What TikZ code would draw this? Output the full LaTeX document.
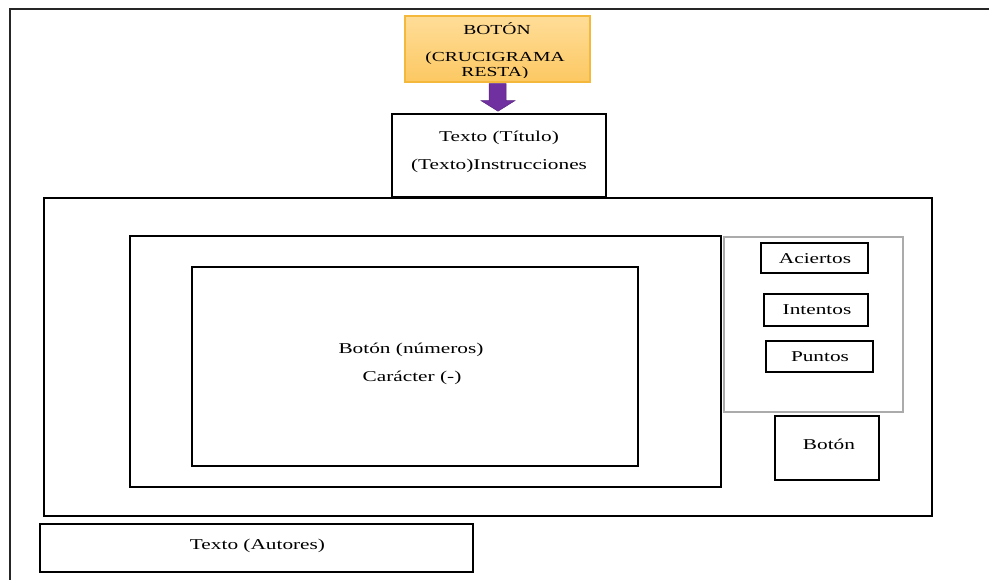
\documentclass[tikz,border=0pt]{standalone}
\usepackage{fontspec}
\setmainfont{Liberation Serif}[FakeStretch=1.42]
\usetikzlibrary{calc}
\definecolor{btnfillA}{HTML}{FFDD98}
\definecolor{btnfillB}{HTML}{FCC862}
\definecolor{btnedge}{HTML}{F4B93C}
\definecolor{arrowfill}{HTML}{7030A0}
\definecolor{arrowedge}{HTML}{5A2480}
\definecolor{paneledge}{HTML}{ABABAB}
\begin{document}
\begin{tikzpicture}[x=1pt,y=-1pt,
  box/.style={draw=black,line width=1.6pt,rectangle,inner sep=0pt},
  panel/.style={draw=paneledge,line width=1.4pt,rectangle,inner sep=0pt},
  lbl/.style={font=\fontsize{15}{18}\selectfont,anchor=base,inner sep=0pt},
  btnlbl/.style={font=\fontsize{13.8}{16}\selectfont,anchor=base,inner sep=0pt}]
\useasboundingbox (0,0) rectangle (989,580);
\fill[white] (0,0) rectangle (989,580);

% page frame (only top and left edges fall inside the view)
\draw[line width=2.4pt,black!85,line cap=rect] (989,9) -- (10,9) -- (10,582);

% start button
\node[rectangle,inner sep=0pt,top color=btnfillA,bottom color=btnfillB,draw=btnedge,line width=1.2pt,
      minimum width=185,minimum height=66] (btn) at (497.5,49) {};
\node[btnlbl] (btnA) at (497,34.5) {BOTÓN};
\begin{scope}
  \clip (405,16) rectangle (590,78);
  \node[btnlbl] (btnB) at (495,62) {(CRUCIGRAMA};
  \node[btnlbl] (btnC) at (495,76.7) {RESTA)};
\end{scope}

% title / instructions
\node[box,minimum width=214,minimum height=83] (title) at (499,155.5) {};
\node[lbl] (titleA) at (499,141.7) {Texto (Título)};
\node[lbl] (titleB) at (499,170) {(Texto)Instrucciones};

% block arrow from the button to the title box
\fill[arrowfill,draw=arrowedge,line width=0.5pt]
  ($(btn.south)+(-8.5,1)$) -- ($(btn.south)+(8.5,1)$) -- ($(btn.south)+(8.5,18)$)
  -- ($(btn.south)+(17.5,18)$) -- ($(title.north)+(-1,-2)$)
  -- ($(btn.south)+(-16.5,18)$) -- ($(btn.south)+(-8.5,18)$) -- cycle;

% main area
\node[box,minimum width=888,minimum height=318] (main) at (488,357) {};
\node[box,minimum width=591,minimum height=251] (board) at (425.5,361.5) {};
\node[box,minimum width=446,minimum height=199] (grid) at (415,366.5) {};
\node[lbl] (gridA) at (411,354) {Botón (números)};
\node[lbl] (gridB) at (412,381.5) {Carácter (-)};

% score panel
\node[panel,minimum width=179,minimum height=175] (score) at (813.5,324.5) {};
\node[box,minimum width=107,minimum height=30] (hits) at (814.5,258) {};
\node[lbl] (hitsT) at (815,263.3) {Aciertos};
\node[box,minimum width=104,minimum height=32] (tries) at (816,310) {};
\node[lbl] (triesT) at (817,314.3) {Intentos};
\node[box,minimum width=107,minimum height=31] (points) at (819.5,356.5) {};
\node[lbl] (pointsT) at (820,361.7) {Puntos};
\node[box,minimum width=104,minimum height=64] (go) at (827,448) {};
\node[lbl] (goT) at (829,449) {Botón};

% authors
\node[box,minimum width=433,minimum height=48] (auth) at (256.5,548) {};
\node[lbl] (authT) at (257.5,549) {Texto (Autores)};
\end{tikzpicture}
\end{document}
